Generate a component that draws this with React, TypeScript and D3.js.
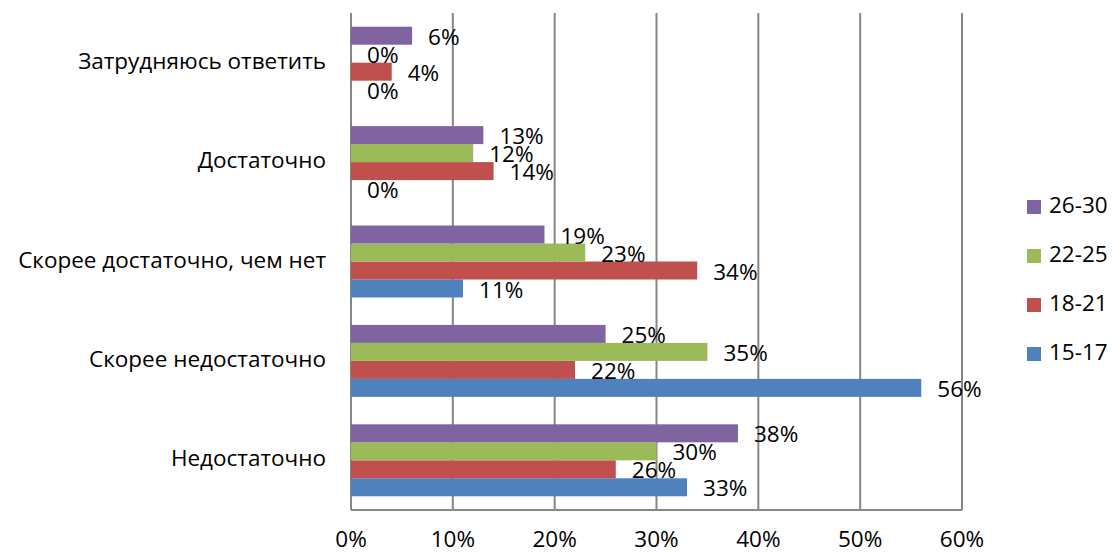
import * as d3 from 'd3';
import React from 'react';

// категории снизу вверх, как в исходной диаграмме
const categories = [
  'Недостаточно',
  'Скорее недостаточно',
  'Скорее достаточно, чем нет',
  'Достаточно',
  'Затрудняюсь ответить',
];

const series = ['15-17', '18-21', '22-25', '26-30'];

const values1517 = [33, 56, 11, 0, 0];
const values1821 = [26, 22, 34, 14, 4];
const values2225 = [30, 35, 23, 12, 0];
const values2630 = [38, 25, 19, 13, 6];

const xTicks = [0, 10, 20, 30, 40, 50, 60];

const colors: Record<string, string> = {
  '15-17': '#4F81BD',
  '18-21': '#C0504D',
  '22-25': '#9BBB59',
  '26-30': '#8064A2',
};

const seriesValues: Record<string, number[]> = {
  '15-17': values1517,
  '18-21': values1821,
  '22-25': values2225,
  '26-30': values2630,
};

const FONT = '"Open Sans", sans-serif';
const FS = 22.5;

const App = () => {
  const width = 1113;
  const height = 553;
  const plot = { left: 351, right: 962, top: 13, bottom: 510 };

  const x = d3.scaleLinear().domain([0, 60]).range([plot.left, plot.right]);

  // сверху вниз: последняя категория наверху
  const y = d3
    .scaleBand<string>()
    .domain([...categories].reverse())
    .range([plot.top, plot.bottom])
    .paddingInner(0.276)
    .paddingOuter(0.138);

  const inner = d3
    .scaleBand<string>()
    .domain([...series].reverse())
    .range([0, y.bandwidth()]);

  const legendItems = [...series].reverse();

  return (
    <svg width={width} height={height} style={{ display: 'block', position: 'absolute', left: 0, top: 0 }}>
      <rect width={width} height={height} fill="#fff" />

      {/* сетка */}
      {xTicks.map((t) => (
        <line key={t} x1={x(t)} x2={x(t)} y1={plot.top} y2={plot.bottom} stroke="#868686" strokeWidth={2} />
      ))}
      <line x1={plot.left} x2={plot.right} y1={plot.bottom} y2={plot.bottom} stroke="#868686" strokeWidth={2} />

      {/* столбцы */}
      {categories.map((c, i) =>
        series.map((s) => {
          const v = seriesValues[s][i];
          const y0 = (y(c) as number) + (inner(s) as number);
          return (
            <rect
              key={c + s}
              x={x(0)}
              y={y0}
              width={x(v) - x(0)}
              height={inner.bandwidth()}
              fill={colors[s]}
            />
          );
        })
      )}

      {/* подписи значений */}
      {categories.map((c, i) =>
        series.map((s) => {
          const v = seriesValues[s][i];
          const cy = (y(c) as number) + (inner(s) as number) + inner.bandwidth() / 2 + 3;
          return (
            <text
              key={'l' + c + s}
              x={x(v) + 16}
              y={cy}
              dominantBaseline="middle"
              fontFamily={FONT}
              fontSize={FS}
              fill="#000"
            >
              {v}%
            </text>
          );
        })
      )}

      {/* подписи категорий */}
      {categories.map((c) => (
        <text
          key={'c' + c}
          x={326}
          y={(y(c) as number) + y.bandwidth() / 2}
          textAnchor="end"
          dominantBaseline="middle"
          fontFamily={FONT}
          fontSize={FS}
          fill="#000"
        >
          {c}
        </text>
      ))}

      {/* ось X */}
      {xTicks.map((t) => (
        <text
          key={'t' + t}
          x={x(t)}
          y={541}
          textAnchor="middle"
          dominantBaseline="middle"
          fontFamily={FONT}
          fontSize={FS}
          fill="#000"
        >
          {t}%
        </text>
      ))}

      {/* легенда */}
      {legendItems.map((s, i) => (
        <g key={'lg' + s} transform={`translate(1027, ${207 + i * 49})`}>
          <rect x={0} y={-7} width={14} height={14} fill={colors[s]} />
          <text x={22} y={0} dominantBaseline="middle" fontFamily={FONT} fontSize={FS} fill="#000">
            {s}
          </text>
        </g>
      ))}
    </svg>
  );
};

export default App;
